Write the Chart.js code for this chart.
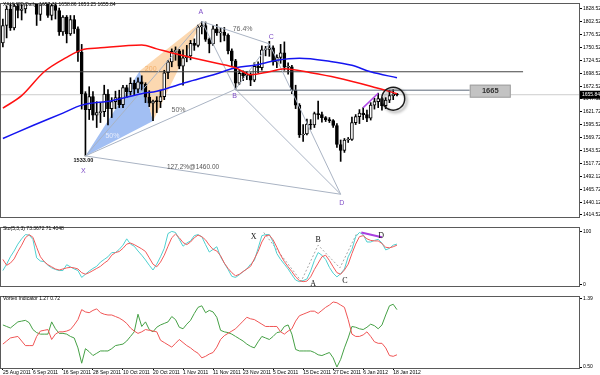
<!DOCTYPE html>
<html>
<head>
<meta charset="utf-8">
<script src="https://cdn.jsdelivr.net/npm/chart.js@4.4.0/dist/chart.umd.min.js"></script>
<style>
  html, body { margin: 0; padding: 0; background: #fff; width: 600px; height: 375px; overflow: hidden; }
  canvas { position: absolute; left: 0; }
  #main { top: 0; }
  #sto { top: 224px; }
  #vor { top: 293px; }
</style>
</head>
<body>
<canvas id="main" width="600" height="226"></canvas>
<canvas id="sto" width="600" height="71"></canvas>
<canvas id="vor" width="600" height="82"></canvas>
<script>
// XAUUSD daily bars, 25 Aug 2011 .. 19 Jan 2012 (bar index 0..105)
const opens  = [1760,1795,1828,1790,1834,1825,1828,1877,1897,1872,1817,1858,1857,1815,1835,1825,1782,1812,1778,1807,
                1788,1741,1658,1626,1652,1615,1620,1622,1657,1628,1642,1650,1636,1670,1662,1679,1667,1682,1677,1651,
                1639,1643,1642,1652,1700,1722,1743,1744,1713,1730,1734,1759,1755,1792,1795,1767,1758,1788,1780,1781,
                1775,1744,1724,1679,1699,1694,1697,1685,1713,1710,1746,1747,1750,1722,1731,1740,1711,1712,1665,1635,
                1575,1577,1597,1595,1618,1616,1610,1606,1604,1594,1556,1544,1565,1566,1600,1612,1619,1616,1609,1635,
                1642,1648,1634,1645,1654,1657.31];
const highs  = [1808,1834,1838,1840,1842,1837,1884,1900,1920,1875,1865,1875,1862,1845,1850,1830,1815,1815,1815,1815,
                1792,1757,1662,1672,1662,1642,1640,1675,1666,1650,1663,1665,1675,1675,1690,1685,1690,1694,1680,1664,
                1645,1652,1665,1705,1725,1748,1752,1747,1746,1755,1765,1768,1796,1803,1802,1770,1795,1797,1790,1791,
                1778,1748,1727,1705,1704,1702,1700,1720,1722,1754,1753,1763,1754,1736,1757,1762,1720,1715,1675,1638,
                1596,1607,1606,1621,1643,1621,1612,1610,1606,1598,1565,1568,1570,1611,1616,1626,1630,1625,1640,1649,
                1659,1650,1650,1665,1666,1658.86];
const lows   = [1752,1770,1785,1786,1810,1806,1820,1865,1856,1795,1805,1838,1811,1806,1808,1775,1775,1760,1775,1779,
                1723,1627,1533,1606,1605,1590,1600,1612,1595,1610,1628,1630,1630,1650,1655,1655,1660,1665,1640,1632,
                1604,1620,1630,1646,1688,1712,1725,1708,1675,1722,1726,1745,1752,1778,1763,1740,1755,1775,1762,1764,
                1738,1712,1667,1676,1684,1686,1674,1682,1700,1705,1734,1733,1715,1710,1719,1705,1697,1658,1628,1570,
                1562,1575,1586,1590,1607,1601,1602,1600,1590,1550,1522,1540,1560,1564,1596,1598,1606,1602,1605,1627,
                1630,1625,1628,1640,1646,1653.25];
const closes = [1795,1828,1790,1834,1825,1828,1877,1897,1872,1817,1858,1857,1815,1835,1825,1782,1812,1778,1807,1788,
                1741,1658,1626,1652,1615,1620,1622,1657,1628,1642,1650,1636,1670,1662,1679,1667,1682,1677,1651,1639,
                1643,1642,1652,1700,1722,1743,1744,1713,1730,1734,1759,1755,1792,1795,1767,1758,1788,1780,1781,1775,
                1744,1724,1679,1699,1694,1697,1685,1713,1710,1746,1747,1750,1722,1731,1740,1711,1712,1665,1635,1575,
                1577,1597,1595,1618,1616,1610,1606,1604,1594,1556,1544,1565,1566,1600,1612,1619,1616,1609,1635,1642,
                1648,1634,1645,1654,1657.31,1655.84];

const dateIdx = [0,8,16,24,32,40,48,56,64,72,80,88,96,104];
const dateLabels = ["25 Aug 2011","6 Sep 2011","16 Sep 2011","28 Sep 2011","10 Oct 2011","20 Oct 2011","1 Nov 2011",
                    "11 Nov 2011","23 Nov 2011","5 Dec 2011","15 Dec 2011","27 Dec 2011","6 Jan 2012","18 Jan 2012"];
const priceTicks = [1828.52,1802.52,1776.52,1750.52,1724.52,1698.52,1672.52,1647.52,1621.72,1595.52,1569.72,
                    1543.52,1517.72,1492.12,1465.72,1440.12,1414.52];

// moving averages, read at sample bars
const maRedIdx  = [0,5,11,17,21,26,37,41,46,51,57,62,66,71,75,82,89,98,105];
const maRed     = [1629,1654,1702,1731,1746,1750,1756,1748,1738,1729,1719,1710,1696,1702,1708,1700,1690,1673,1658];
const maBlueIdx = [0,8,16,21,29,37,41,49,57,62,67,73,79,87,93,98,105];
const maBlue    = [1568,1594,1619,1635,1644,1658,1663,1681,1698,1710,1715,1725,1729,1723,1715,1702,1690];

// horizontal levels
const levelPrice = [1702, 1665, 1655.84];
const levelFrom  = [-0.5, 62, -0.5];
const levelTo    = [138.6, 124.4, 153.5];

// harmonic pattern X A B C D
const patNames = ["X","A","B","C","D"];
const patIdx   = [22, 53, 62, 71, 90];
const patPrice = [1533, 1803, 1667, 1758, 1456];
const patTarget = 1460;
const patLegs  = [[0,1],[0,2],[1,2],[1,3],[2,3],[2,4],[3,4],[0,4]];
const triBlueIdx = [22, 36.5, 40];
const triBluePrice = [1533, 1704, 1603];
const triOrangeIdx = [36.5, 40, 53];
const triOrangePrice = [1704, 1603, 1803];
const purpleIdx = [96, 100];
const purplePrice = [1630, 1659];
const circleIdx = 104;
const circlePrice = 1648;

// Stochastic (5,3,3)
const stochMain = [26,38,52,63,76,86,94,93,85,50,44,43,36,31,28,26,26,37,33,29,
                   26,13,19,25,30,34,42,47,52,60,60,66,74,86,76,72,63,55,46,36,
                   27,38,52,68,96,100,98,85,72,78,82,92,94,90,75,61,66,71,52,40,
                   28,15,13,18,24,29,38,45,68,92,94,94,80,58,47,38,29,18,8,5,
                   7,10,25,45,60,55,47,32,21,14,20,29,52,66,90,98,94,80,80,83,
                   85,78,65,68,74,76];
const stochSignal = [47,36,40,48,62,74,88,94,89,70,52,43,37,33,29,27,29,31,32,31,
                     29,22,19,22,26,30,34,40,45,55,60,62,68,76,78,75,71,67,62,50,
                     38,33,42,55,72,88,95,88,79,75,80,88,93,90,84,74,66,63,54,40,
                     30,22,16,19,24,29,34,48,62,80,92,93,84,70,55,43,33,24,14,7,
                     5,6,14,28,40,52,55,45,33,22,19,27,38,58,76,90,92,86,83,82,
                     82,77,70,69,71,74];
const stoPatIdx = [69.5, 79.5, 84, 89.8, 94.4];
const stoPatVal = [98, 6, 74, 31, 98];
const stoPurpleIdx = [95.5, 101];
const stoPurpleVal = [98, 89];

// Vortex indicator
const viPlus = [1.05,1.03,1.01,1.05,1.09,1.10,1.11,1.08,0.99,0.95,0.93,0.93,0.93,1.09,1.00,0.94,0.94,0.93,0.90,0.88,
                0.75,0.55,0.74,0.70,0.65,0.68,0.71,0.71,0.71,0.74,0.78,0.79,0.80,0.84,0.90,0.96,1.19,1.03,1.09,0.99,
                0.96,1.02,1.05,1.07,1.09,1.16,1.12,1.02,1.00,1.06,1.11,1.20,1.28,1.30,1.21,1.24,1.22,1.15,0.98,0.96,
                0.95,0.93,0.90,0.87,0.84,0.80,0.77,0.75,0.83,0.90,0.88,0.86,0.90,0.95,0.96,1.03,1.05,0.93,0.73,0.71,
                0.71,0.71,0.71,0.69,0.66,0.65,0.67,0.69,0.62,0.50,0.60,0.75,0.88,1.03,1.02,1.00,0.99,1.02,1.06,1.04,
                1.00,1.05,1.18,1.30,1.32,1.25];
const viMinus = [0.80,0.84,0.88,0.89,0.90,0.84,0.78,0.78,0.78,0.90,0.97,0.98,0.99,0.86,0.93,0.96,0.96,0.97,0.99,1.05,
                 1.12,1.25,1.22,1.21,1.24,1.26,1.21,1.19,1.18,1.18,1.16,1.14,1.11,1.07,1.01,0.97,0.94,0.96,0.99,0.98,
                 0.97,0.96,0.85,0.82,0.79,0.76,0.81,0.86,0.82,0.78,0.75,0.71,0.68,0.62,0.64,0.67,0.69,0.76,0.86,0.91,
                 0.94,0.97,1.00,1.05,1.10,1.15,1.13,1.12,1.09,1.06,1.03,1.03,1.03,1.03,0.96,0.93,0.97,1.00,1.10,1.17,
                 1.19,1.21,1.23,1.23,1.20,1.24,1.28,1.31,1.35,1.34,1.31,1.28,1.12,0.93,0.90,0.90,0.92,0.96,0.90,0.83,
                 0.81,0.81,0.75,0.65,0.64,0.66];

const mainTitle = "XAUUSD,Daily  1657.31 1658.86 1653.25 1655.84";
const stoTitle = "Sto(5,3,3) 73.3672 71.4048";
const vorTitle = "Vortex Indicator 1.27 0.72";

const FONT = '"Liberation Sans", Arial, sans-serif';
Chart.defaults.font.family = FONT;
Chart.defaults.font.size = 5;
Chart.defaults.color = '#000';

const idx = opens.map((_, i) => i);
const pts = (xs, ys) => xs.map((x, k) => ({ x, y: ys[k] }));

function text(ctx, s, x, y, font, color, align) {
  ctx.font = font;
  ctx.fillStyle = color;
  ctx.textAlign = align || 'center';
  ctx.textBaseline = 'middle';
  ctx.fillText(s, x, y);
}

function frame(chart) {
  const { ctx, chartArea: a } = chart;
  ctx.save();
  ctx.strokeStyle = '#5a5a5a';
  ctx.lineWidth = 1;
  ctx.strokeRect(a.left - 0.5, a.top - 0.5, a.right - a.left + 1, a.bottom - a.top + 1);
  ctx.restore();
}

function xScale(show) {
  return {
    type: 'linear', min: -0.5, max: 153.5, offset: false, bounds: 'data', display: show,
    border: { display: false },
    grid: { drawOnChartArea: false, drawTicks: true, tickLength: 2, color: '#000' },
    ticks: { padding: 0, autoSkip: false, maxRotation: 0, align: 'start',
             callback: (v, i) => dateLabels[i] },
    afterBuildTicks: s => { s.ticks = dateIdx.map(v => ({ value: v })); },
    afterFit: s => { s.height = 7; }
  };
}

function yScale(min, max, ticks, digits) {
  return {
    position: 'right', min, max, bounds: 'data',
    border: { display: false },
    grid: { drawOnChartArea: false, drawTicks: true, tickLength: 3, color: '#000' },
    ticks: { padding: 1, autoSkip: false, callback: v => v.toFixed(digits) },
    afterBuildTicks: s => { s.ticks = ticks.map(v => ({ value: v })); },
    afterFit: s => { s.width = 21; }
  };
}

const common = {
  responsive: false, animation: false, devicePixelRatio: 1, events: [],
  plugins: { legend: { display: false }, tooltip: { enabled: false } },
  elements: { point: { radius: 0 }, line: { tension: 0 } }
};

function line(data, color, width, order, extra) {
  return Object.assign({ type: 'line', data, borderColor: color, borderWidth: width,
                         pointRadius: 0, fill: false, order }, extra || {});
}

// ---------- main price panel ----------
const mainSets = [
  line(pts([levelFrom[2], levelTo[2]], [levelPrice[2], levelPrice[2]]), '#cdcdcd', 1, 9),
  { type: 'bar', data: idx.map(i => ({ x: i, y: [lows[i], highs[i]] })), backgroundColor: '#000',
    barThickness: 1, grouped: false, order: 5 },
  { type: 'bar', data: idx.map(i => ({ x: i, y: [opens[i], closes[i]] })),
    backgroundColor: idx.map(i => closes[i] >= opens[i] ? '#fff' : '#000'),
    borderColor: '#000', borderWidth: 1, borderSkipped: false, barThickness: 3, minBarLength: 1,
    grouped: false, order: 4 },
  line(pts([levelFrom[0], levelTo[0]], [levelPrice[0], levelPrice[0]]), '#454545', 1, 3),
  line(pts([levelFrom[1], levelTo[1]], [levelPrice[1], levelPrice[1]]), '#5d6878', 1, 3),
];
patLegs.forEach(([a, b]) => {
  mainSets.push(line(pts([patIdx[a], patIdx[b]], [patPrice[a], patPrice[b]]), '#a9b3c3', 1, 2));
});
mainSets.push(line(pts(maRedIdx, maRed), '#ff1010', 1.5, 1, { cubicInterpolationMode: 'monotone' }));
mainSets.push(line(pts(maBlueIdx, maBlue), '#1515f0', 1.5, 1, { cubicInterpolationMode: 'monotone' }));
mainSets.push(line(pts(purpleIdx, purplePrice), '#b048e8', 1.5, 1));
mainSets.push({ type: 'line', label: 'circle', data: [{ x: circleIdx, y: circlePrice }], showLine: false,
  pointRadius: 11.5, pointBorderWidth: 1.5, pointBorderColor: '#1a1a1a',
  pointBackgroundColor: 'rgba(0,0,0,0)', order: 0 });

const mainDeco = {
  id: 'mainDeco',
  beforeDatasetsDraw(chart) {
    const { ctx, scales: { x, y } } = chart;
    const poly = (xs, ys, fill) => {
      ctx.beginPath();
      xs.forEach((v, k) => {
        const px = x.getPixelForValue(v), py = y.getPixelForValue(ys[k]);
        k ? ctx.lineTo(px, py) : ctx.moveTo(px, py);
      });
      ctx.closePath();
      ctx.fillStyle = fill;
      ctx.fill();
    };
    ctx.save();
    poly(triBlueIdx, triBluePrice, '#a2bff3');
    poly(triOrangeIdx, triOrangePrice, '#fcd8b0');
    ctx.restore();
  },
  beforeDatasetDraw(chart, args) {
    if (chart.data.datasets[args.index].label === 'circle') {
      chart.ctx.save();
      chart.ctx.shadowColor = 'rgba(0,0,0,0.45)';
      chart.ctx.shadowBlur = 3;
      chart.ctx.shadowOffsetX = 2;
      chart.ctx.shadowOffsetY = 2;
    }
  },
  afterDatasetDraw(chart, args) {
    if (chart.data.datasets[args.index].label === 'circle') chart.ctx.restore();
  },
  afterDraw(chart) {
    const { ctx, scales: { x, y } } = chart;
    const P = k => [x.getPixelForValue(patIdx[k]), y.getPixelForValue(patPrice[k])];
    ctx.save();
    const letterOff = [[-2, 15], [-1, -9], [-1, 7], [2, -7], [1, 9]];
    patNames.forEach((n, k) => {
      const [px, py] = P(k);
      text(ctx, n, px + letterOff[k][0], py + letterOff[k][1], '7px ' + FONT, '#8050c8');
    });
    const [xx, xy] = P(0), [ax, ay] = P(1), [bx, by] = P(2), [cx, cy] = P(3), [dx, dy] = P(4);
    text(ctx, patPrice[0].toFixed(2), xx - 2, xy + 5, 'bold 5.5px ' + FONT, '#111');
    text(ctx, '76.4%', (ax + cx) / 2 + 7, (ay + cy) / 2 - 4, '7px ' + FONT, '#666');
    text(ctx, '50%', (xx + bx) / 2 + 18, (xy + by) / 2 - 12, '7px ' + FONT, '#666');
    text(ctx, '127.2%@' + patTarget.toFixed(2), (xx + dx) / 2 - 20, (xy + dy) / 2 - 8, '6.5px ' + FONT, '#555');
    text(ctx, '50%', xx + 27, xy - 20, '7px ' + FONT, '#e6ecfb');
    const p1x = x.getPixelForValue(triBlueIdx[1]), p1y = y.getPixelForValue(triBluePrice[1]);
    text(ctx, '200', p1x + 5, p1y - 2, '7px ' + FONT, '#f3b06c', 'left');

    // level box
    const bx0 = x.getPixelForValue(levelTo[1]), byc = y.getPixelForValue(levelPrice[1]) + 1;
    ctx.fillStyle = '#c3c3c3';
    ctx.fillRect(bx0, byc - 6.5, 41, 13);
    ctx.strokeStyle = '#a0a0a0';
    ctx.strokeRect(bx0 + 0.5, byc - 6, 40, 12);
    text(ctx, String(levelPrice[1]), bx0 + 20.5, byc, 'bold 7.5px ' + FONT, '#333');

    frame(chart);
    text(ctx, mainTitle, 3, 5, '5px ' + FONT, '#000', 'left');

    // current price tag on the axis
    const ty = y.getPixelForValue(levelPrice[2]);
    ctx.fillStyle = '#000';
    ctx.fillRect(580, ty - 4, 20, 8);
    text(ctx, levelPrice[2].toFixed(2), 582, ty, '5px ' + FONT, '#fff', 'left');
    ctx.restore();
  }
};

new Chart(document.getElementById('main'), {
  type: 'bar',
  data: { datasets: mainSets },
  options: Object.assign({}, common, {
    layout: { autoPadding: false, padding: { left: 1, top: 1, right: 0, bottom: 2 } },
    scales: { x: xScale(false), y: yScale(1410.3, 1838.1, priceTicks, 2) }
  }),
  plugins: [mainDeco]
});

// ---------- stochastic panel ----------
const stoDeco = {
  id: 'stoDeco',
  afterDraw(chart) {
    const { ctx, scales: { x, y } } = chart;
    ctx.save();
    frame(chart);
    text(ctx, stoTitle, 3, 5, '5px ' + FONT, '#000', 'left');
    const off = [[-10, 4], [12, 3], [0, -5], [5, 13], [24, 3]];
    patNames.forEach((n, k) => {
      text(ctx, n, x.getPixelForValue(stoPatIdx[k]) + off[k][0], y.getPixelForValue(stoPatVal[k]) + off[k][1],
           '8px "Liberation Serif", serif', '#111');
    });
    ctx.restore();
  }
};

new Chart(document.getElementById('sto'), {
  type: 'line',
  data: { datasets: [
    line(pts(idx, stochMain), '#4fd0d0', 1, 2),
    line(pts(idx, stochSignal), '#f25a5a', 1, 1),
    line(pts(stoPatIdx, stoPatVal), '#a8a8a8', 1, 3, { borderDash: [2, 2] }),
    line(pts(stoPurpleIdx, stoPurpleVal), '#a840e0', 2, 0)
  ] },
  options: Object.assign({}, common, {
    layout: { autoPadding: false, padding: { left: 1, top: 1, right: 0, bottom: 2 } },
    scales: { x: xScale(false), y: yScale(-3.23, 106.45, [0, 100], 0) }
  }),
  plugins: [stoDeco]
});

// ---------- vortex panel ----------
const vorDeco = {
  id: 'vorDeco',
  afterDraw(chart) {
    const { ctx } = chart;
    ctx.save();
    frame(chart);
    text(ctx, vorTitle, 3, 6, '5px ' + FONT, '#000', 'left');
    ctx.restore();
  }
};

new Chart(document.getElementById('vor'), {
  type: 'line',
  data: { datasets: [
    line(pts(idx, viPlus), '#45a045', 1, 1),
    line(pts(idx, viMinus), '#f05555', 1, 0)
  ] },
  options: Object.assign({}, common, {
    layout: { autoPadding: false, padding: { left: 1, top: 1, right: 0, bottom: 0 } },
    scales: { x: xScale(true), y: yScale(0.4875, 1.415, [0.50, 1.39], 2) }
  }),
  plugins: [vorDeco]
});
</script>
</body>
</html>
